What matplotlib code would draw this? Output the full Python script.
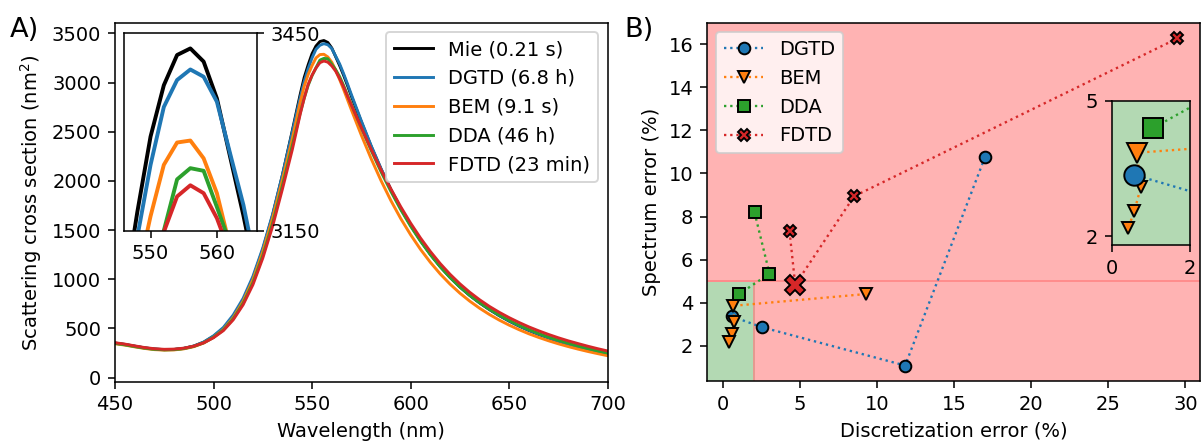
import matplotlib
matplotlib.use("Agg")
import matplotlib.pyplot as plt
from matplotlib.patches import Rectangle

# ---------------- spectra (panel A) ----------------
wavelength = [450, 455, 460, 465, 470, 475, 480, 485, 490, 495, 500, 505, 510, 515, 520,
              525, 530, 535, 540, 544, 546, 548, 550, 552, 554, 556, 558, 560, 562, 564,
              566, 568, 570, 575, 580, 585, 590, 595, 600, 605, 610, 615, 620, 625, 630,
              635, 640, 645, 650, 655, 660, 665, 670, 675, 680, 685, 690, 695, 700]

mie = [352, 338, 320, 303, 291, 285, 287, 298, 321, 360, 420, 500, 622, 787, 1012,
       1302, 1652, 2062, 2512, 2880, 3050, 3178, 3293, 3371, 3417, 3427, 3407, 3351, 3262, 3173,
       3075, 2970, 2860, 2600, 2350, 2120, 1910, 1720, 1550, 1395, 1255, 1130, 1020, 922, 836,
       760, 692, 630, 575, 525, 480, 440, 404, 371, 341, 313, 287, 263, 240]

dgtd = [350, 336, 319, 302, 290, 284, 286, 297, 321, 362, 425, 510, 637, 805, 1030,
        1318, 1662, 2063, 2500, 2850, 3010, 3140, 3250, 3338, 3379, 3395, 3384, 3346, 3267, 3189,
        3090, 2985, 2875, 2610, 2357, 2125, 1913, 1722, 1552, 1397, 1257, 1132, 1022, 924, 838,
        762, 694, 632, 577, 527, 482, 442, 406, 373, 343, 315, 289, 265, 242]

bem = [345, 331, 313, 297, 285, 280, 282, 293, 315, 352, 410, 490, 610, 775, 995,
       1280, 1622, 2015, 2430, 2800, 2960, 3080, 3172, 3250, 3284, 3287, 3260, 3207, 3125, 3030,
       2930, 2825, 2720, 2465, 2225, 2003, 1800, 1617, 1453, 1305, 1173, 1055, 951, 859, 778,
       706, 642, 585, 534, 488, 446, 409, 375, 344, 316, 290, 266, 244, 223]

dda = [348, 334, 316, 300, 288, 283, 285, 296, 318, 354, 410, 485, 598, 755, 965,
       1240, 1570, 1955, 2360, 2690, 2840, 2970, 3070, 3150, 3228, 3245, 3241, 3186, 3130, 3060,
       2970, 2870, 2775, 2540, 2310, 2093, 1893, 1708, 1540, 1388, 1251, 1128, 1019, 923, 838,
       763, 696, 636, 582, 533, 489, 449, 413, 380, 350, 322, 296, 272, 250]

fdtd = [355, 341, 323, 306, 294, 288, 290, 300, 320, 354, 406, 478, 588, 740, 945,
        1215, 1540, 1920, 2320, 2680, 2840, 2980, 3075, 3148, 3202, 3219, 3207, 3169, 3115, 3040,
        2955, 2862, 2770, 2543, 2322, 2113, 1918, 1737, 1571, 1420, 1283, 1160, 1051, 954, 868,
        792, 724, 664, 610, 561, 516, 476, 439, 405, 374, 346, 319, 294, 271]

spectra_labels = ["Mie (0.21 s)", "DGTD (6.8 h)", "BEM (9.1 s)", "DDA (46 h)", "FDTD (23 min)"]

# ---------------- errors (panel B) ----------------
dgtd_disc = [17.0, 11.82, 2.53, 0.58]
dgtd_spec = [10.76, 1.08, 2.86, 3.36]
dgtd_pick = 3

bem_disc = [9.27, 0.64, 0.75, 0.58, 0.42]
bem_spec = [4.40, 3.85, 3.10, 2.56, 2.17]
bem_pick = 1

dda_disc = [2.05, 3.02, 1.06]
dda_spec = [8.19, 5.35, 4.40]
dda_pick = 2

fdtd_disc = [4.32, 4.69, 8.51, 29.48]
fdtd_spec = [7.31, 4.83, 8.94, 16.27]
fdtd_pick = 1

method_names = ["DGTD", "BEM", "DDA", "FDTD"]

disc_limit = 2.0
spec_limit = 5.0

# ---------------- figure ----------------
fig = plt.figure(figsize=(8.6, 3.15), dpi=140)

colors = ["k", "tab:blue", "tab:orange", "tab:green", "tab:red"]
series = [mie, dgtd, bem, dda, fdtd]

axA = fig.add_axes([0.0955, 0.1345, 0.4092, 0.814])
for vals, c, lab in zip(series, colors, spectra_labels):
    axA.plot(wavelength, vals, color=c, lw=1.5, label=lab)
axA.set_xlim(450, 700)
axA.set_ylim(-41, 3608)
axA.set_xticks([450, 500, 550, 600, 650, 700])
axA.set_yticks([0, 500, 1000, 1500, 2000, 2500, 3000, 3500])
axA.set_xlabel("Wavelength (nm)")
axA.set_ylabel("Scattering cross section (nm$^2$)")
axA.legend(loc="upper right")

insA = fig.add_axes([0.103, 0.4769, 0.1102, 0.4476])
for vals, c in zip(series, colors):
    insA.plot(wavelength, vals, color=c, lw=2)
insA.set_xlim(546, 566)
insA.set_ylim(3150, 3450)
insA.set_xticks([550, 560])
insA.set_yticks([3150, 3450])
insA.yaxis.tick_right()

# panel B
axB = fig.add_axes([0.587, 0.1355, 0.4097, 0.813])
axB.set_facecolor("#ffb3b3")
axB.add_patch(Rectangle((-5, -5), disc_limit + 5, spec_limit + 5,
                        facecolor="#b3d9b3", edgecolor="#e59a90", lw=1.0, zorder=0.5))
axB.axhline(spec_limit, color="#ff8c8c", lw=1.0, zorder=0.6)

markers = ["o", "v", "s", "X"]
mcolors = ["tab:blue", "tab:orange", "tab:green", "tab:red"]
data = [(dgtd_disc, dgtd_spec, dgtd_pick), (bem_disc, bem_spec, bem_pick),
        (dda_disc, dda_spec, dda_pick), (fdtd_disc, fdtd_spec, fdtd_pick)]

for (xs, ys, pick), m, c, name in zip(data, markers, mcolors, method_names):
    axB.plot(xs, ys, ls=":", lw=1.2, color=c, marker=m, ms=6, mfc=c, mec="k",
             mew=1.0, label=name)
axB.plot(fdtd_disc[fdtd_pick], fdtd_spec[fdtd_pick], ls="none", marker="X", ms=10,
         mfc="tab:red", mec="k", mew=1.0)
axB.set_xlim(-1.05, 30.95)
axB.set_ylim(0.35, 17.0)
axB.set_xticks([0, 5, 10, 15, 20, 25, 30])
axB.set_yticks([2, 4, 6, 8, 10, 12, 14, 16])
axB.set_xlabel("Discretization error (%)")
axB.set_ylabel("Spectrum error (%)")
axB.legend(loc="upper left")

insB = fig.add_axes([0.9233, 0.4444, 0.0651, 0.3266])
insB.set_facecolor("#b3d9b3")
for (xs, ys, pick), m, c in zip(data, markers, mcolors):
    insB.plot(xs, ys, ls=":", lw=1.2, color=c, marker=m, ms=6, mfc=c, mec="k", mew=1.0)
for (xs, ys, pick), m, c in zip(data, markers, mcolors):
    insB.plot(xs[pick], ys[pick], ls="none", marker=m, ms=10.5, mfc=c, mec="k", mew=1.0)
insB.set_xlim(0, 2)
insB.set_ylim(1.8, 5)
insB.set_xticks([0, 2])
insB.set_yticks([2, 5])

fig.text(10 / 1204, 1 - 37 / 441, "A)", fontsize=14)
fig.text(624 / 1204, 1 - 37 / 441, "B)", fontsize=14)

fig.savefig("out.png", dpi=140)
